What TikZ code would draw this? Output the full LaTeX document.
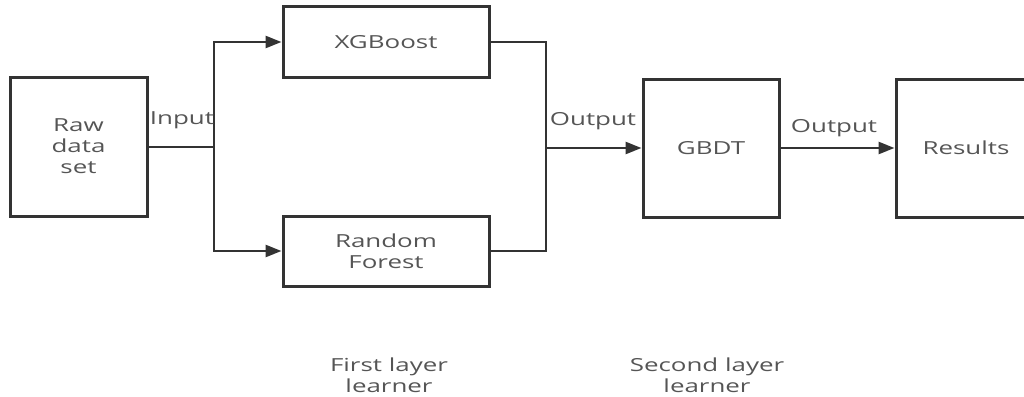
\documentclass[tikz,border=0pt]{standalone}
\usepackage{fontspec}
\setmainfont[FakeStretch=1.44]{Open Sans}
\usetikzlibrary{arrows.meta}
\definecolor{linegray}{HTML}{333333}
\definecolor{textgray}{HTML}{555555}
\tikzset{
  box/.style={draw=linegray, line width=3pt, fill=white, inner sep=0pt,
    align=center, text=textgray, font=\fontsize{18}{21}\selectfont},
  lbl/.style={text=textgray, inner sep=0pt, align=center,
    font=\fontsize{18}{21}\selectfont},
  wire/.style={draw=linegray, line width=2.6pt},
  arr/.style={wire, -{Triangle[length=16pt,width=12pt]}},
}
\begin{document}
\begin{tikzpicture}[x=1pt,y=-1pt]
\clip (0,0) rectangle (1024,396);
\fill[white] (0,0) rectangle (1024,396);

% boxes
\node[box, minimum width=137pt, minimum height=139pt] (raw) at (78.5,146.5) {Raw\\data\\set};
\node[box, minimum width=206pt, minimum height=70pt] (xgb) at (386,42) {XGBoost};
\node[box, minimum width=206pt, minimum height=70pt] (rf) at (386,251) {Random\\Forest};
\node[box, minimum width=136pt, minimum height=138pt] (gbdt) at (711,148) {GBDT};
\node[box, minimum width=140pt, minimum height=138pt] (res) at (966,148) {Results};

% junction points
\coordinate (split) at (214,147);
\coordinate (merge) at (546,148);

% connectors
\draw[wire] (raw.east |- split) -- (split);
\draw[arr] (split) |- (xgb.west);
\draw[arr] (split) |- (rf.west);
\draw[wire] (xgb.east) -| (merge);
\draw[wire] (rf.east) -| (merge);
\draw[arr] (merge) -- (gbdt.west);
\draw[arr] (gbdt.east) -- (res.west);

% labels
\node[lbl] (lin) at (182,120) {Input};
\node[lbl] (lout1) at (593,121) {Output};
\node[lbl] (lout2) at (834,128) {Output};
\node[lbl] (first) at (389,375) {First layer\\learner};
\node[lbl] (second) at (707,375) {Second layer\\learner};
\end{tikzpicture}
\end{document}
